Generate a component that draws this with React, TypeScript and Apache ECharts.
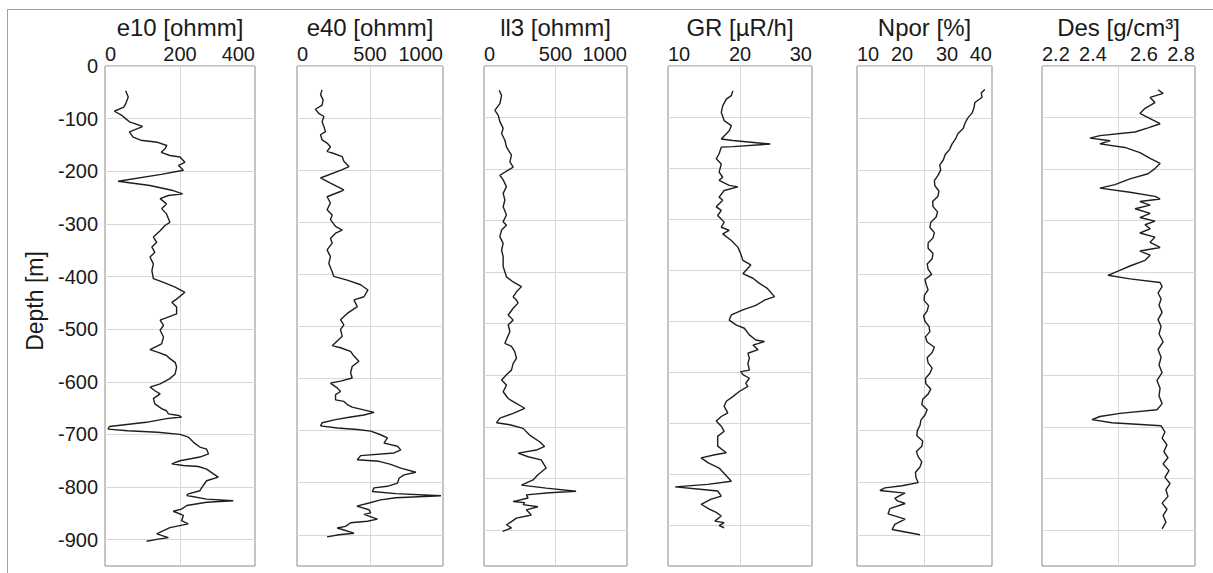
import React, { useEffect, useRef } from 'react';
import * as echarts from 'echarts';

// ---------- data ----------
const depthTicks = [0, -100, -200, -300, -400, -500, -600, -700, -800, -900];
const trackTitles = ['e10 [ohmm]', 'e40 [ohmm]', 'll3 [ohmm]', 'GR [µR/h]', 'Npor [%]', 'Des [g/cm³]'];
const trackRanges = [[0, 400], [0, 1000], [0, 1000], [10, 30], [10, 40], [2.2, 2.8]];
const trackTickLabels = [[0, 200, 400], [0, 500, 1000], [0, 500, 1000], [10, 20, 30], [10, 20, 30, 40], [2.2, 2.4, 2.6, 2.8]];
const trackGridValues = [[200], [500], [500], [20], [25], [2.5]];
const trackDepthMin = [-950, -960, -970, -980, -960, -970];

// [depth, value]
const e10Log = [[-47,55],[-59,62],[-72,55],[-78,50],[-86,25],[-94,45],[-100,55],[-106,65],[-111,85],[-115,100],[-121,80],[-125,65],[-135,75],[-141,95],[-145,140],[-151,165],[-157,160],[-164,150],[-170,173],[-173,200],[-183,213],[-189,196],[-198,209],[-206,150],[-219,35],[-227,120],[-236,178],[-243,207],[-246,169],[-252,147],[-262,164],[-271,151],[-281,164],[-297,173],[-303,160],[-313,147],[-325,129],[-335,138],[-344,125],[-354,133],[-363,120],[-376,129],[-389,125],[-404,129],[-411,156],[-420,187],[-430,213],[-443,191],[-449,178],[-458,191],[-471,191],[-483,147],[-493,156],[-502,147],[-515,156],[-528,151],[-539,120],[-544,142],[-550,164],[-556,173],[-563,187],[-572,191],[-585,187],[-594,173],[-604,147],[-610,120],[-617,133],[-623,147],[-632,129],[-642,133],[-651,151],[-655,164],[-661,169],[-664,196],[-667,204],[-670,164],[-677,110],[-685,12],[-690,8],[-693,60],[-696,140],[-700,200],[-705,222],[-715,236],[-724,253],[-728,271],[-737,276],[-743,253],[-750,200],[-756,178],[-759,209],[-761,249],[-766,271],[-775,289],[-781,302],[-788,271],[-797,262],[-807,253],[-813,222],[-816,218],[-823,271],[-826,342],[-829,271],[-835,218],[-842,204],[-846,182],[-854,209],[-864,204],[-870,222],[-877,173],[-883,156],[-889,138],[-896,169],[-899,142],[-903,111]];

const e40Log = [[-46,172],[-55,161],[-65,179],[-75,172],[-83,126],[-91,149],[-97,184],[-107,172],[-116,184],[-126,195],[-132,161],[-142,172],[-148,206],[-155,229],[-164,206],[-168,252],[-174,310],[-183,321],[-193,356],[-199,310],[-215,161],[-225,229],[-238,321],[-241,298],[-251,206],[-263,229],[-276,206],[-286,241],[-295,229],[-308,264],[-315,310],[-321,264],[-331,229],[-340,241],[-353,206],[-366,229],[-379,218],[-395,241],[-404,252],[-411,344],[-420,436],[-430,486],[-443,459],[-449,390],[-462,413],[-475,344],[-487,298],[-497,321],[-506,298],[-519,310],[-537,241],[-541,298],[-548,367],[-557,390],[-567,424],[-577,378],[-589,367],[-599,378],[-605,298],[-609,229],[-618,275],[-625,298],[-631,264],[-641,264],[-644,321],[-650,344],[-655,378],[-665,528],[-670,459],[-674,367],[-679,264],[-685,172],[-691,161],[-695,275],[-698,413],[-701,505],[-708,573],[-714,619],[-724,596],[-730,688],[-737,711],[-743,665],[-748,436],[-756,413],[-759,562],[-765,642],[-772,711],[-780,814],[-785,734],[-791,700],[-801,688],[-807,619],[-810,528],[-817,516],[-821,677],[-825,986],[-829,677],[-833,573],[-839,493],[-845,410],[-852,493],[-858,505],[-861,459],[-870,551],[-874,482],[-877,367],[-884,333],[-887,275],[-890,310],[-897,390],[-900,287],[-904,206]];

const ll3Log = [[-47,106],[-57,123],[-73,111],[-86,76],[-96,100],[-108,111],[-121,134],[-131,123],[-144,146],[-157,157],[-173,192],[-186,181],[-196,204],[-202,169],[-212,111],[-221,134],[-234,157],[-247,134],[-260,146],[-273,134],[-289,157],[-302,134],[-309,157],[-318,123],[-331,111],[-344,134],[-357,123],[-370,134],[-389,134],[-409,157],[-419,204],[-428,262],[-438,227],[-448,204],[-454,227],[-460,238],[-470,204],[-483,169],[-493,204],[-502,169],[-515,181],[-538,146],[-544,192],[-554,215],[-567,227],[-577,204],[-590,192],[-599,157],[-609,123],[-619,157],[-632,134],[-645,169],[-651,204],[-664,285],[-674,204],[-683,111],[-692,88],[-696,181],[-703,273],[-716,319],[-729,389],[-738,424],[-745,366],[-751,239],[-758,308],[-764,400],[-780,435],[-793,377],[-803,343],[-813,262],[-819,435],[-825,644],[-828,458],[-832,296],[-838,308],[-845,204],[-847,285],[-851,273],[-855,377],[-861,296],[-871,331],[-877,227],[-884,192],[-890,157],[-896,192],[-903,130]];

const grLog = [[-49,19.0],[-58,18.8],[-65,18.1],[-78,17.6],[-91,17.4],[-107,17.8],[-117,18.8],[-127,18.5],[-137,17.8],[-143,17.4],[-146,19.0],[-153,24.2],[-158,19.0],[-159,17.4],[-172,17.1],[-182,16.7],[-192,17.4],[-208,17.1],[-218,17.6],[-224,17.1],[-234,18.5],[-237,19.7],[-244,17.8],[-257,17.1],[-263,17.6],[-276,16.7],[-283,17.4],[-293,16.9],[-306,17.8],[-316,17.4],[-322,18.5],[-329,17.6],[-342,18.8],[-355,19.7],[-368,20.1],[-381,20.4],[-390,21.5],[-407,20.4],[-416,21.8],[-426,22.7],[-436,23.8],[-452,24.8],[-459,23.4],[-469,22.2],[-478,20.4],[-488,18.8],[-498,18.5],[-508,19.5],[-514,20.6],[-527,21.3],[-537,22.2],[-540,23.4],[-547,21.8],[-556,22.5],[-563,21.1],[-573,21.3],[-583,21.1],[-596,21.3],[-599,20.1],[-605,20.4],[-612,21.3],[-622,20.8],[-628,21.1],[-638,19.9],[-648,19.0],[-657,18.1],[-667,17.8],[-680,18.3],[-687,17.4],[-696,16.7],[-706,17.4],[-716,17.8],[-726,16.9],[-745,16.9],[-758,18.1],[-762,16.5],[-768,14.6],[-778,15.6],[-788,17.1],[-814,18.8],[-820,15.5],[-825,11.0],[-830,14.8],[-833,16.9],[-843,17.4],[-849,16.0],[-859,14.6],[-869,15.8],[-875,16.7],[-882,17.4],[-892,16.5],[-895,17.8],[-901,17.1],[-905,17.8]];

const nporLog = [[-45,38.4],[-52,37.6],[-60,37.8],[-70,36.2],[-80,36.0],[-90,35.6],[-100,34.6],[-110,34.0],[-120,33.6],[-130,32.4],[-140,31.9],[-150,31.1],[-160,30.6],[-170,29.6],[-180,29.2],[-190,28.4],[-200,28.6],[-210,28.0],[-220,27.2],[-230,27.3],[-240,28.2],[-250,28.0],[-260,26.8],[-270,26.9],[-280,27.9],[-290,27.6],[-300,26.4],[-310,26.2],[-320,27.2],[-330,26.9],[-340,25.8],[-350,25.8],[-360,26.9],[-370,26.7],[-380,25.6],[-390,25.8],[-400,26.6],[-410,25.1],[-420,25.4],[-430,25.8],[-440,25.0],[-450,24.9],[-460,25.9],[-470,25.6],[-480,24.8],[-490,25.1],[-500,26.0],[-510,26.2],[-520,25.2],[-530,25.6],[-540,27.2],[-550,26.7],[-560,25.6],[-570,25.8],[-580,26.7],[-590,26.2],[-600,25.2],[-610,25.3],[-620,26.4],[-630,25.8],[-640,24.6],[-650,24.4],[-660,25.6],[-670,25.1],[-680,24.2],[-690,24.0],[-700,23.4],[-710,23.3],[-720,24.6],[-730,24.4],[-740,23.2],[-750,23.6],[-760,24.4],[-770,24.0],[-780,23.0],[-790,23.1],[-800,23.6],[-806,20.0],[-810,16.2],[-815,15.1],[-820,20.7],[-825,19.5],[-830,18.4],[-835,19.0],[-840,20.7],[-850,17.3],[-860,16.9],[-870,20.7],[-880,18.4],[-890,17.8],[-900,24.0]];

const desLog = [[-46,2.655],[-53,2.675],[-61,2.624],[-71,2.643],[-82,2.604],[-92,2.584],[-102,2.624],[-112,2.663],[-120,2.616],[-128,2.565],[-135,2.427],[-140,2.388],[-145,2.467],[-151,2.427],[-158,2.525],[-168,2.584],[-179,2.624],[-189,2.663],[-199,2.643],[-209,2.616],[-219,2.545],[-230,2.486],[-237,2.427],[-245,2.545],[-253,2.643],[-258,2.663],[-263,2.584],[-270,2.624],[-277,2.565],[-286,2.624],[-294,2.584],[-301,2.643],[-308,2.604],[-316,2.624],[-324,2.584],[-332,2.643],[-342,2.624],[-352,2.663],[-359,2.584],[-367,2.624],[-377,2.604],[-388,2.545],[-398,2.498],[-406,2.459],[-413,2.545],[-420,2.663],[-428,2.671],[-440,2.655],[-452,2.667],[-464,2.659],[-478,2.671],[-492,2.655],[-505,2.667],[-520,2.659],[-535,2.675],[-550,2.655],[-565,2.667],[-580,2.659],[-595,2.671],[-610,2.651],[-625,2.663],[-640,2.659],[-655,2.671],[-667,2.651],[-674,2.506],[-680,2.427],[-686,2.396],[-692,2.474],[-698,2.667],[-710,2.682],[-722,2.671],[-735,2.690],[-748,2.678],[-760,2.694],[-772,2.675],[-785,2.698],[-798,2.682],[-810,2.702],[-822,2.686],[-835,2.694],[-848,2.671],[-860,2.690],[-872,2.675],[-885,2.686],[-898,2.671]];

const trackLogs = [e10Log, e40Log, ll3Log, grLog, nporLog, desLog];

// ---------- layout ----------
const gridLefts = [105, 297, 484, 668, 857, 1042];
const gridWidths = [150, 146, 143, 144, 135, 153];
const GRID_TOP = 66;
const GRID_HEIGHT = 500;
const FONT = '"Liberation Sans", Arial, Helvetica, sans-serif';
const TEXT = '#1a1a1a';

export default function App() {
  const ref = useRef<HTMLDivElement | null>(null);

  useEffect(() => {
    if (!ref.current) return;
    const chart = echarts.init(ref.current, undefined, { renderer: 'svg' });

    const grids = gridLefts.map((left, i) => ({
      left,
      top: GRID_TOP,
      width: gridWidths[i],
      height: GRID_HEIGHT,
      show: true,
      borderColor: '#8a8a8a',
      borderWidth: 1,
      backgroundColor: 'transparent',
      containLabel: false,
    }));

    const xAxes = trackTitles.map((title, i) => ({
      gridIndex: i,
      type: 'value',
      position: 'top',
      min: trackRanges[i][0],
      max: trackRanges[i][1],
      axisLine: { show: false },
      axisTick: { show: false, customValues: trackGridValues[i] },
      splitLine: { show: true, lineStyle: { color: '#d8d8d8', width: 1 } },
      axisLabel: {
        customValues: trackTickLabels[i],
        formatter: (v: number) => String(v),
        alignMinLabel: 'left',
        alignMaxLabel: 'right',
        fontSize: 20,
        color: TEXT,
        fontFamily: FONT,
        margin: 2,
        showMinLabel: true,
        showMaxLabel: true,
        hideOverlap: false,
      },
      name: title,
      nameLocation: 'middle',
      nameGap: 23,
      nameTextStyle: { fontSize: 24, color: TEXT, fontFamily: FONT },
    }));

    const yAxes = trackTitles.map((_, i) => ({
      gridIndex: i,
      type: 'value',
      min: trackDepthMin[i],
      max: 0,
      axisLine: { show: false },
      axisTick: { show: false, customValues: depthTicks },
      splitLine: { show: true, lineStyle: { color: '#d8d8d8', width: 1 } },
      axisLabel: {
        show: i === 0,
        customValues: depthTicks,
        fontSize: 20,
        color: TEXT,
        fontFamily: FONT,
        margin: 7,
      },
    }));

    const series = trackLogs.map((log, i) => ({
      type: 'line',
      xAxisIndex: i,
      yAxisIndex: i,
      data: log.map(([d, v]) => [v, d]),
      showSymbol: false,
      symbol: 'none',
      silent: true,
      lineStyle: { color: '#1e1e1e', width: 1.4 },
    }));

    chart.setOption({
      animation: false,
      backgroundColor: '#ffffff',
      grid: grids,
      xAxis: xAxes,
      yAxis: yAxes,
      series,
      graphic: [
        { type: 'line', shape: { x1: 8, y1: 9.5, x2: 1213, y2: 9.5 }, style: { stroke: '#a0a0a0', lineWidth: 1 }, silent: true },
        { type: 'line', shape: { x1: 7.5, y1: 9, x2: 7.5, y2: 573 }, style: { stroke: '#a0a0a0', lineWidth: 1 }, silent: true },
        {
          type: 'text',
          x: 35,
          y: 301,
          rotation: Math.PI / 2,
          silent: true,
          style: {
            text: 'Depth [m]',
            fontSize: 23,
            fontFamily: FONT,
            fill: TEXT,
            textAlign: 'center',
            textVerticalAlign: 'middle',
          },
        },
      ],
    });

    return () => chart.dispose();
  }, []);

  return (
    <div
      ref={ref}
      style={{ position: 'fixed', left: 0, top: 0, width: 1213, height: 573, background: '#fff' }}
    />
  );
}
